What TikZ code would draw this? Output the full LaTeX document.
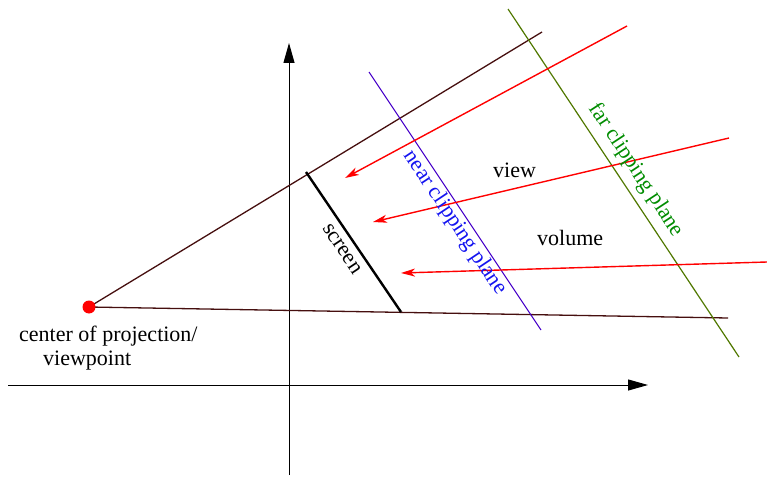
\documentclass[tikz,border=0pt]{standalone}
\usepackage{fontspec}
\setmainfont{Liberation Serif}
\usetikzlibrary{arrows.meta}
\definecolor{raycol}{RGB}{70,15,15}
\definecolor{nearcol}{RGB}{70,0,200}
\definecolor{neartext}{RGB}{20,20,240}
\definecolor{farcol}{RGB}{80,120,0}
\definecolor{fartext}{RGB}{0,140,0}
\definecolor{arrcol}{RGB}{255,0,0}
\tikzset{
  axis/.style={line width=1pt,-{Triangle[length=20pt,width=11pt]}},
  ray/.style={line width=1.3pt,draw=raycol},
  ptarrow/.style={line width=1.4pt,draw=arrcol,-{Stealth[length=14pt,width=8pt,inset=4pt]},arrcol},
  lbl/.style={font=\fontsize{22}{24}\selectfont,inner sep=0pt},
}
\begin{document}
\begin{tikzpicture}[x=1pt,y=-1pt]
\useasboundingbox (0,0) rectangle (767,478);
% axes
\coordinate (xs) at (8,385);
\coordinate (xe) at (648,385);
\coordinate (ys) at (289,475);
\coordinate (ye) at (289,43);
\draw[axis] (xs) -- (xe);
\draw[axis] (ys) -- (ye);
% rays
\coordinate (up) at (542,32);
\coordinate (lo) at (728,318);
\coordinate (vpc) at (89,307);
\draw[ray] (vpc) -- (up);
\draw[ray] (vpc) -- (lo);
% screen
\coordinate (s1) at (306,172);
\coordinate (s2) at (401,312);
\draw[line width=2.4pt] (s1) -- (s2);
% near plane
\coordinate (n1) at (369,72);
\coordinate (n2) at (541,330);
\draw[nearcol,line width=1pt] (n1) -- (n2);
% far plane
\coordinate (f1) at (508,9);
\coordinate (f2) at (739,357);
\draw[farcol,line width=1.2pt] (f1) -- (f2);
% red arrows
\coordinate (a1s) at (627,26);
\coordinate (a1e) at (345,178);
\coordinate (a2s) at (729,138);
\coordinate (a2e) at (373,222);
\coordinate (a3s) at (767,262);
\coordinate (a3e) at (401,273);
\draw[ptarrow] (a1s) -- (a1e);
\draw[ptarrow] (a2s) -- (a2e);
\draw[ptarrow] (a3s) -- (a3e);
% viewpoint dot
\node[circle,fill=red,minimum size=13pt,inner sep=0pt] (vp) at (vpc) {};
% labels
\node[lbl,anchor=base west] (cop) at (19,341) {center of projection/};
\node[lbl,anchor=base west] (vpt) at (43,365) {viewpoint};
\node[lbl,anchor=base west] (view) at (493,178) {view};
\node[lbl,anchor=base west] (vol) at (537,245) {volume};
\node[lbl,rotate=-56.2] (scr) at (342,249) {screen};
\node[lbl,rotate=-56.3,text=neartext] (nlbl) at (455,223) {near clipping plane};
\node[lbl,rotate=-56.6,text=fartext] (flbl) at (636,170) {far clipping plane};
\end{tikzpicture}
\end{document}
